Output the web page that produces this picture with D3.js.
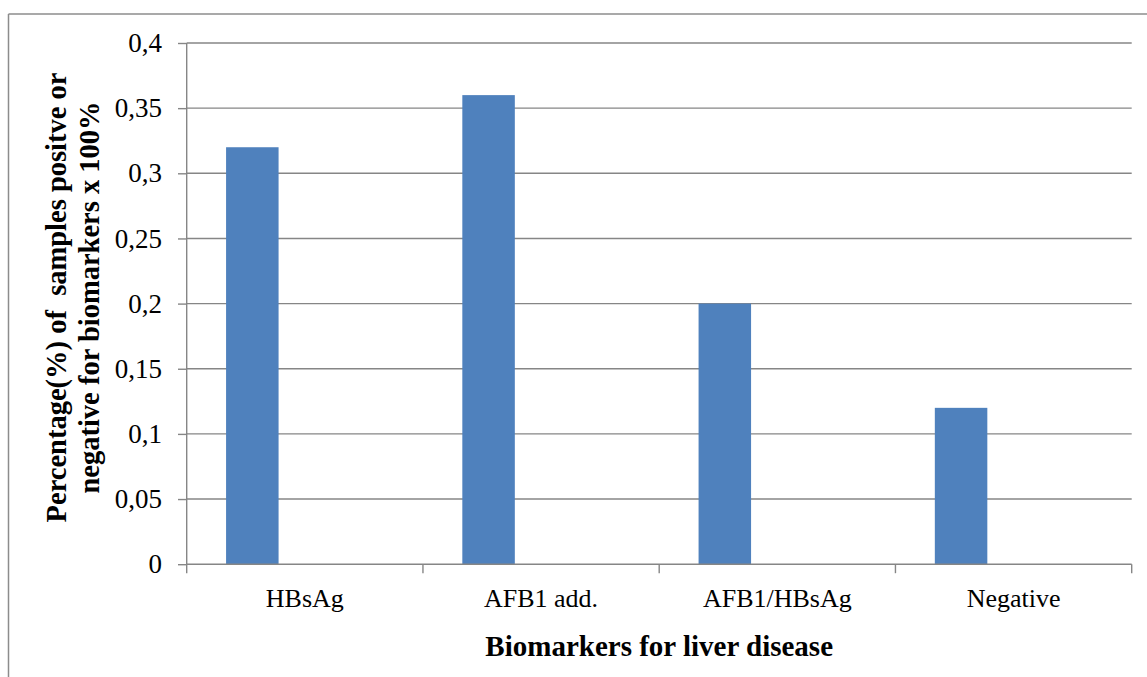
<!DOCTYPE html>
<html>
<head>
<meta charset="utf-8">
<script src="https://cdn.jsdelivr.net/npm/d3@7"></script>
<style>
  html, body { margin: 0; padding: 0; background: #fff; }
  svg { display: block; }
  text { font-family: "Liberation Serif", "Times New Roman", serif; fill: #000; }
</style>
</head>
<body>
<svg id="chart" width="1147" height="677"></svg>
<script>
// Share of samples per biomarker group
const categories = ["HBsAg", "AFB1 add.", "AFB1/HBsAg", "Negative"];
const seriesNames = ["Series1", "Series2", "Series3"];
const series1 = [0.32, 0.36, 0.2, 0.12];
const yTicks = [0, 0.05, 0.1, 0.15, 0.2, 0.25, 0.3, 0.35, 0.4];
const xTitle = "Biomarkers for liver disease";
const yTitle = ["Percentage(%) of  samples positve or", "negative for biomarkers x 100%"];

const W = 1147, H = 677;
const plot = { left: 186.7, right: 1131.7, top: 43, bottom: 564.2 };
const gridColor = "#868686";
const barColor = "#4F81BD";

const svg = d3.select("#chart");

// decimal comma, as in the tick labels
const locale = d3.formatLocale({ decimal: ",", thousands: ".", grouping: [3], currency: ["", ""] });
const fmt = locale.format("~g");

const x0 = d3.scaleBand().domain(categories).range([plot.left, plot.right]).padding(0);
const x1 = d3.scaleBand().domain(seriesNames).range([0, x0.bandwidth()])
  .paddingInner(0).paddingOuter(0.75);
const y = d3.scaleLinear().domain([0, 0.4]).range([plot.bottom, plot.top]);

// chart-area frame (left and top edges visible)
svg.append("line").attr("x1", 8.5).attr("x2", 8.5).attr("y1", 14).attr("y2", H)
  .attr("stroke", "#8c8c8c").attr("stroke-width", 1.5);
svg.append("line").attr("x1", 8.5).attr("x2", W).attr("y1", 14).attr("y2", 14)
  .attr("stroke", "#8c8c8c").attr("stroke-width", 1.5);

// horizontal gridlines
svg.append("g").selectAll("line").data(yTicks.filter(d => d > 0)).join("line")
  .attr("x1", plot.left).attr("x2", plot.right)
  .attr("y1", d => y(d)).attr("y2", d => y(d))
  .attr("stroke", gridColor).attr("stroke-width", 1.4);

// bars
svg.append("g").selectAll("rect").data(categories).join("rect")
  .attr("x", (c) => x0(c) + x1("Series1"))
  .attr("width", x1.bandwidth())
  .attr("y", (c, i) => y(series1[i]))
  .attr("height", (c, i) => y(0) - y(series1[i]))
  .attr("fill", barColor);

// y axis
const yAxis = d3.axisLeft(y).tickValues(yTicks).tickFormat(fmt).tickSize(8.7).tickPadding(16);
const gy = svg.append("g").attr("transform", `translate(${plot.left},0)`).call(yAxis);
gy.select(".domain").attr("stroke", gridColor).attr("stroke-width", 1.4).attr("d", `M0,${plot.top}V${plot.bottom}`);
gy.selectAll(".tick line").attr("stroke", gridColor).attr("stroke-width", 1.4);
gy.selectAll(".tick text").attr("font-size", 27).attr("font-family", "Liberation Serif").attr("fill", "#000");

// x axis: category boundary ticks and labels
const xg = svg.append("g");
xg.append("line").attr("x1", plot.left).attr("x2", plot.right)
  .attr("y1", y(0)).attr("y2", y(0)).attr("stroke", gridColor).attr("stroke-width", 1.4);
const bounds = categories.map(c => x0(c)).concat([x0(categories[categories.length - 1]) + x0.bandwidth()]);
xg.selectAll("line.tk").data(bounds).join("line").attr("class", "tk")
  .attr("x1", d => d).attr("x2", d => d)
  .attr("y1", y(0)).attr("y2", y(0) + 9)
  .attr("stroke", gridColor).attr("stroke-width", 1.4);
xg.selectAll("text").data(categories).join("text")
  .attr("x", c => x0(c) + x0.bandwidth() / 2)
  .attr("y", 607)
  .attr("text-anchor", "middle")
  .attr("font-size", 26)
  .text(c => c);

// axis titles
svg.append("text")
  .attr("x", (plot.left + plot.right) / 2).attr("y", 656)
  .attr("text-anchor", "middle").attr("font-size", 29).attr("font-weight", "bold")
  .text(xTitle);

const yt = svg.append("text")
  .attr("transform", `translate(0,297.5) rotate(-90)`)
  .attr("text-anchor", "middle").attr("font-size", 28.5).attr("font-weight", "bold")
  .style("white-space", "pre");
yTitle.forEach((line, i) => {
  yt.append("tspan").attr("x", 0).attr("y", 66 + i * 33).text(line);
});
</script>
</body>
</html>
